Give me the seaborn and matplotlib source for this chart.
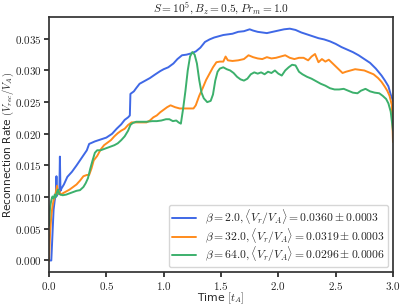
import numpy as np
import pandas as pd
import matplotlib
matplotlib.use("Agg")
import matplotlib.pyplot as plt
from matplotlib.ticker import FuncFormatter
import seaborn as sns

title = r"$S = 10^5, B_z = 0.5, Pr_m = 1.0$"
labels = [
    r"$\beta = 2.0, \langle V_r/V_A\rangle = 0.0360 \pm 0.0003$",
    r"$\beta = 32.0, \langle V_r/V_A\rangle = 0.0319 \pm 0.0003$",
    r"$\beta = 64.0, \langle V_r/V_A\rangle = 0.0296 \pm 0.0006$",
]
colors = ["#3f68e6", "#ff8b1c", "#3cb06c"]

t_blue = [0, 0.02, 0.03, 0.04, 0.05, 0.06, 0.065, 0.07, 0.08, 0.09, 0.095, 0.10, 0.11, 0.13, 0.16,
          0.20, 0.24, 0.27, 0.30, 0.33, 0.35, 0.40, 0.45, 0.50, 0.55, 0.59, 0.63, 0.66, 0.69, 0.705,
          0.71, 0.74, 0.76, 0.79, 0.82, 0.85, 0.88, 0.92, 0.97, 1.00, 1.04, 1.085, 1.12, 1.16, 1.20,
          1.24, 1.28, 1.32, 1.36, 1.40, 1.44, 1.48, 1.52, 1.56, 1.60, 1.65, 1.70, 1.75, 1.78, 1.82,
          1.86, 1.90, 1.95, 2.00, 2.05, 2.10, 2.15, 2.20, 2.25, 2.30, 2.35, 2.40, 2.45, 2.50, 2.55,
          2.60, 2.65, 2.70, 2.75, 2.80, 2.85, 2.90, 2.93, 2.96, 2.98, 3.00]
v_blue = [0, 0, 0.004, 0.008, 0.0095, 0.0105, 0.0133, 0.0102, 0.0110, 0.0105, 0.0164, 0.0110,
          0.0114, 0.0120, 0.0132, 0.0140, 0.0150, 0.0158, 0.0166, 0.0174, 0.0184, 0.0188, 0.0191,
          0.0194, 0.0200, 0.0208, 0.0215, 0.0222, 0.0226, 0.0229,
          0.0263, 0.0267, 0.0272, 0.0279, 0.0282, 0.0285, 0.0288, 0.0293, 0.0299, 0.0302, 0.0305,
          0.0311, 0.0318, 0.0324, 0.0325, 0.0327, 0.0330, 0.0336, 0.0345, 0.0349, 0.0352, 0.0354,
          0.0356, 0.0357, 0.0358, 0.0361, 0.0362, 0.0365, 0.0363, 0.0361, 0.0360, 0.0359, 0.0361,
          0.0363, 0.0365, 0.0366, 0.0364, 0.0360, 0.0357, 0.0354, 0.0351, 0.0349, 0.0346, 0.0342,
          0.0337, 0.0333, 0.0329, 0.0324, 0.0318, 0.0312, 0.0303, 0.0292, 0.0284, 0.0275, 0.0262,
          0.0252]

t_orange = [0, 0.01, 0.02, 0.03, 0.04, 0.05, 0.06, 0.07, 0.08, 0.09, 0.10, 0.12, 0.15, 0.18, 0.21,
            0.24, 0.27, 0.30, 0.33, 0.35, 0.37, 0.39, 0.42, 0.45, 0.48, 0.51, 0.54, 0.57, 0.60, 0.63,
            0.66, 0.69, 0.72, 0.76, 0.80, 0.85, 0.88, 0.91, 0.94, 0.97, 1.00, 1.03, 1.06, 1.10, 1.14,
            1.18, 1.22, 1.26, 1.28, 1.31, 1.34, 1.37, 1.40, 1.43, 1.46, 1.49, 1.52, 1.54, 1.56, 1.60,
            1.65, 1.70, 1.74, 1.78, 1.82, 1.86, 1.90, 1.94, 1.98, 2.02, 2.06, 2.10, 2.14, 2.18, 2.22,
            2.26, 2.29, 2.32, 2.35, 2.38, 2.41, 2.44, 2.48, 2.52, 2.56, 2.59, 2.63, 2.67, 2.71, 2.75,
            2.79, 2.83, 2.87, 2.90, 2.93, 2.95, 2.97, 2.99, 3.00]
v_orange = [0, 0.0045, 0.0070, 0.0085, 0.0095, 0.0100, 0.0108, 0.0118, 0.0105, 0.0110, 0.0104,
            0.0106, 0.0109, 0.0112, 0.0116, 0.0120, 0.0126, 0.0133, 0.0135, 0.0135, 0.0145, 0.0158,
            0.0165, 0.0175, 0.0182, 0.0186, 0.0190, 0.0196, 0.0201, 0.0205, 0.0208, 0.0214, 0.0218,
            0.0218, 0.0218, 0.0218, 0.0221, 0.0226, 0.0229, 0.0234, 0.0238, 0.0242, 0.0245, 0.0242,
            0.0240, 0.0240, 0.0240, 0.0240, 0.0245, 0.0260, 0.0272, 0.0285, 0.0295, 0.0305, 0.0313,
            0.0314, 0.0314, 0.0322, 0.0316, 0.0315, 0.0316, 0.0318, 0.0324, 0.0321, 0.0319, 0.0318,
            0.0321, 0.0319, 0.0320, 0.0322, 0.0324, 0.0320, 0.0318, 0.0320, 0.0320, 0.0316, 0.0322,
            0.0326, 0.0313, 0.0318, 0.0314, 0.0317, 0.0310, 0.0303, 0.0296, 0.0298, 0.0300, 0.0302,
            0.0301, 0.0300, 0.0297, 0.0294, 0.0288, 0.0282, 0.0274, 0.0268, 0.0260, 0.0245, 0.0187]

t_green = [0, 0.01, 0.02, 0.03, 0.04, 0.05, 0.06, 0.07, 0.08, 0.09, 0.10, 0.12, 0.15, 0.18, 0.21,
           0.24, 0.27, 0.30, 0.32, 0.34, 0.36, 0.38, 0.40, 0.42, 0.45, 0.48, 0.51, 0.54, 0.57, 0.60,
           0.63, 0.66, 0.69, 0.71, 0.73, 0.76, 0.80, 0.85, 0.90, 0.94, 0.98, 1.02, 1.05, 1.08, 1.11,
           1.13, 1.15, 1.17, 1.19, 1.21, 1.23, 1.25, 1.27, 1.29, 1.31, 1.33, 1.35, 1.38, 1.41, 1.43,
           1.45, 1.47, 1.49, 1.52, 1.55, 1.58, 1.61, 1.64, 1.67, 1.70, 1.73, 1.76, 1.79, 1.82, 1.85,
           1.88, 1.91, 1.94, 1.97, 2.00, 2.03, 2.06, 2.09, 2.12, 2.15, 2.18, 2.21, 2.25, 2.29, 2.33,
           2.37, 2.41, 2.45, 2.49, 2.53, 2.57, 2.61, 2.65, 2.69, 2.72, 2.76, 2.80, 2.84, 2.88, 2.91,
           2.94, 2.96, 2.98, 3.00]
v_green = [0.0055, 0.0085, 0.0095, 0.0101, 0.0098, 0.0104, 0.0100, 0.0108, 0.0112, 0.0105, 0.0104,
           0.0103, 0.0104, 0.0106, 0.0108, 0.0110, 0.0111, 0.0116, 0.0122, 0.0130, 0.0145, 0.0158,
           0.0170, 0.0174, 0.0174, 0.0176, 0.0178, 0.0180, 0.0182, 0.0185, 0.0190, 0.0196, 0.0205,
           0.0214, 0.0217, 0.0219, 0.0219, 0.0219, 0.0220, 0.0220, 0.0221, 0.0223, 0.0223, 0.0220,
           0.0221, 0.0218, 0.0216, 0.0240, 0.0268, 0.0300, 0.0322, 0.0329, 0.0325, 0.0311, 0.0285,
           0.0265, 0.0256, 0.0250, 0.0252, 0.0262, 0.0284, 0.0298, 0.0303, 0.0305, 0.0302, 0.0300,
           0.0296, 0.0290, 0.0286, 0.0284, 0.0287, 0.0294, 0.0297, 0.0295, 0.0297, 0.0294, 0.0298,
           0.0296, 0.0300, 0.0295, 0.0292, 0.0300, 0.0305, 0.0309, 0.0308, 0.0298, 0.0294, 0.0290,
           0.0287, 0.0283, 0.0279, 0.0276, 0.0272, 0.0270, 0.0270, 0.0271, 0.0268, 0.0265, 0.0264,
           0.0268, 0.0271, 0.0267, 0.0265, 0.0264, 0.0260, 0.0255, 0.0248, 0.0235, 0.0205]

sns.set_theme(style="ticks")
plt.rcParams["font.family"] = ["DejaVu Sans"]
plt.rcParams["mathtext.fontset"] = "cm"
plt.rcParams["xtick.major.size"] = 3.5
plt.rcParams["ytick.major.size"] = 3.5

frames = []
for t, v, lab in [(t_blue, v_blue, labels[0]), (t_orange, v_orange, labels[1]),
                  (t_green, v_green, labels[2])]:
    frames.append(pd.DataFrame({"t": t, "v": v, "series": lab}))
df = pd.concat(frames, ignore_index=True)

fig = plt.figure(figsize=(4.0, 3.05), dpi=100)
ax = fig.add_axes([0.1225, 0.108, 0.86, 0.836])
sns.lineplot(data=df, x="t", y="v", hue="series", palette=colors, sort=False,
             estimator=None, lw=1.4, ax=ax)
ax.set_xlim(0, 3.0)
ax.set_xticks([0.0, 0.5, 1.0, 1.5, 2.0, 2.5, 3.0])
ax.set_yticks([0.0, 0.005, 0.010, 0.015, 0.020, 0.025, 0.030, 0.035])
ax.xaxis.set_major_formatter(FuncFormatter(lambda x, p: f"${x:.1f}$"))
ax.yaxis.set_major_formatter(FuncFormatter(lambda x, p: f"${x:.3f}$"))
ax.tick_params(axis="x", labelsize=8, pad=2)
ax.tick_params(axis="y", labelsize=8, pad=1.5)
ax.set_title(title, fontsize=8.2, pad=3)
ax.set_xlabel(r"Time $[t_A]$", fontsize=7.8, labelpad=-1)
ax.set_ylabel(r"Reconnection Rate $(V_{rec}/V_A)$", fontsize=7.6, labelpad=-0.5)
leg = ax.legend(loc="lower right", fontsize=8.4, title=None, handlelength=2.0,
                borderpad=0.3, labelspacing=-0.1, handletextpad=0.8, borderaxespad=0.4)
for sp in ax.spines.values():
    sp.set_color("#333333")
fig.savefig("out.png", dpi=100)
